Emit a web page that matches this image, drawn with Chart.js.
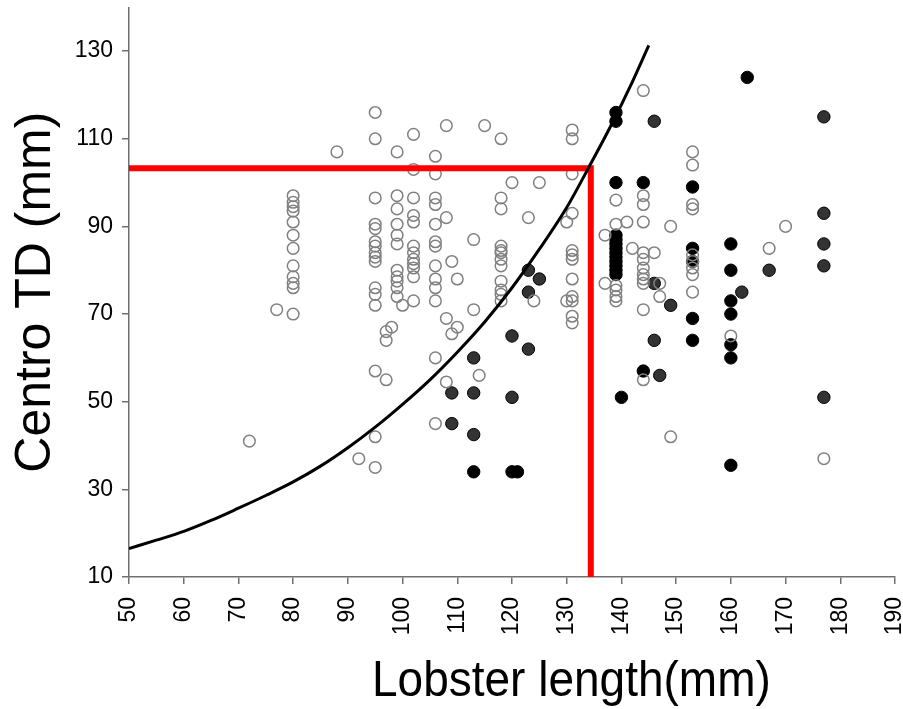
<!DOCTYPE html>
<html><head><meta charset="utf-8">
<script src="https://cdn.jsdelivr.net/npm/chart.js@4.4.0/dist/chart.umd.min.js"></script>
<style>html,body{margin:0;padding:0;background:#fff}#wrap{width:903px;height:709px}</style>
</head><body><div id="wrap"><canvas id="c" width="903" height="709"></canvas></div>
<script>
const xTickValues = [50,60,70,80,90,100,110,120,130,140,150,160,170,180,190];
const yTickValues = [10,30,50,70,90,110,130];
const xTitle = 'Lobster length(mm)';
const yTitle = 'Centro TD (mm)';

// open (grey ring) points [length, TD]
const openPoints = [
  [72,41],[77,71],
  [80,97],[80,95.5],[80,94.5],[80,93.5],[80,91],[80,88],[80,85],[80,81],[80,78.5],[80,77],[80,76],[80,70],
  [88,107],[92,37],
  [95,116],[95,110],[95,96.5],[95,90.5],[95,89.5],[95,86.5],[95,85.5],[95,84],[95,83],[95,82],[95,76],[95,74.5],[95,72],[95,57],[95,42],[95,35],
  [97,66],[97,64],[97,55],[98,67],
  [99,107],[99,97],[99,94],[99,90.5],[99,88],[99,86],[99,80],[99,78.5],[99,77.5],[99,76],[99,74],[100,72],
  [102,111],[102,103],[102,96.5],[102,92.5],[102,91],[102,85.5],[102,84],[102,82.5],[102,81.5],[102,80.5],[102,78.5],[102,73],
  [106,106],[106,102],[106,96.5],[106,95],[106,90.5],[106,86.5],[106,85.5],[106,81],[106,78],[106,76],[106,73],[106,60],[106,45],
  [108,113],[108,92],[108,69],[108,54.5],[109,82],[109,65.5],[110,78],[110,67],
  [113,87],[113,71],[114,56],[115,113],
  [118,110],[118,96.5],[118,94],[118,85.5],[118,84.5],[118,84],[118,82.5],[118,81],[118,77.5],[118,75.5],[118,74.5],[118,73],
  [120,100],[123,92],[124,73],[125,100],[130,91],[130,73],
  [131,112],[131,110],[131,102],[131,93],[131,84.5],[131,83.5],[131,82.5],[131,78],[131,74],[131,73],[131,69.5],[131,68],
  [137,88],[137,77],
  [139,96],[139,90.5],[139,76.5],[139,75.5],[139,74],[139,73],
  [141,91],[142,85],
  [144,121],[144,97],[144,95],[144,91],[144,84],[144,82.5],[144,80.5],[144,79],[144,78],[144,77],[144,71],[144,55],
  [146,84],[147,77],[147,74],[149,90],[149,42],
  [153,107],[153,104],[153,95],[153,94],[153,83.5],[153,82],[153,80.5],[153,79],[153,75],
  [160,65],[167,85],[170,90],[177,37]
];
// dark grey filled points
const darkPoints = [
  [109,52],[109,45],[113,60],[113,52],[113,42.5],[120,65],[120,51],[123,80],[123,75],[123,62],[125,78],
  [146,114],[146,77],[146,64],[147,56],[149,72],[162,75],[167,80],
  [177,115],[177,93],[177,86],[177,81],[177,51]
];
// black filled points
const blackPoints = [
  [113,34],[120,34],[121,34],
  [139,116],[139,114],[139,100],[139,88],[139,87],[139,86],[139,85],[139,84],[139,83],[139,82],[139,81],[139,80],[139,79],
  [140,51],[144,100],[144,57],
  [153,99],[153,85],[153,82],[153,69],[153,64],
  [160,86],[160,80],[160,73],[160,70],[160,63],[160,60],[160,35.5],[163,124]
];
// fitted curve
const curvePoints = [
  [50,16.5],[55,18.4],[60,20.4],[65,22.9],[70,25.7],[75,28.6],[80,31.7],[85,35.3],[90,39.5],[95,44.2],
  [100,49.4],[105,55],[110,61.3],[115,68.2],[120,76],[125,84.8],[130,94.3],[134,103.4],[138,112.8],[142,123],[145,131.3]
];
// red cut-off lines
const cutoffPoints = [[50,103.3],[134.4,103.3],[134.4,10]];

const toXY = a => a.map(p => ({x:p[0], y:p[1]}));
const FONT = '"Liberation Sans", Arial, sans-serif';
const NARROW = '"Liberation Sans Narrow", "Arial Narrow", sans-serif';

const xTitlePlugin = {
  id: 'xTitleDraw',
  afterDraw(chart) {
    const ctx = chart.ctx;
    ctx.save();
    ctx.font = '50px ' + FONT;
    ctx.fillStyle = '#000';
    ctx.textAlign = 'left';
    ctx.textBaseline = 'alphabetic';
    ctx.translate(372, 696);
    ctx.scale(0.92, 1);
    ctx.fillText(xTitle, 0, 0);
    ctx.restore();
  }
};

const noPad = s => { s.paddingTop = 0; s.paddingBottom = 0; s.paddingLeft = 0; s.paddingRight = 0; };

new Chart(document.getElementById('c'), {
  type: 'scatter',
  data: {
    datasets: [
      { data: toXY(curvePoints), showLine: true, pointRadius: 0, borderColor: '#000', borderWidth: 3,
        tension: 0.4, cubicInterpolationMode: 'monotone', order: 0 },
      { data: toXY(cutoffPoints), showLine: true, pointRadius: 0, borderColor: '#ff0000', borderWidth: 6,
        tension: 0, borderJoinStyle: 'miter', borderCapStyle: 'butt', order: 1 },
      { data: toXY(openPoints), pointRadius: 5.8, pointBorderWidth: 1.5, pointBorderColor: '#808080',
        pointBackgroundColor: 'rgba(255,255,255,0)', order: 2 },
      { data: toXY(darkPoints), pointRadius: 6.2, pointBorderWidth: 1, pointBorderColor: '#000',
        pointBackgroundColor: '#333333', order: 3 },
      { data: toXY(blackPoints), pointRadius: 6.2, pointBorderWidth: 1, pointBorderColor: '#000',
        pointBackgroundColor: '#000000', order: 4 }
    ]
  },
  options: {
    responsive: false, animation: false, devicePixelRatio: 1,
    layout: { padding: { top: 5, right: 8, left: 0, bottom: 0 } },
    plugins: { legend: { display: false }, tooltip: { enabled: false } },
    scales: {
      x: {
        type: 'linear', min: 50, max: 190,
        afterBuildTicks: s => { s.ticks = xTickValues.map(v => ({value: v})); },
        afterFit: s => { s.height = 132; noPad(s); },
        ticks: { font: { family: NARROW, size: 23 }, color: '#000', minRotation: 90, maxRotation: 90, autoSkip: false, padding: 13 },
        grid: { drawOnChartArea: false, drawTicks: true, tickLength: 7, color: '#707070', lineWidth: 1.5 },
        border: { color: '#707070', width: 1.5 }
      },
      y: {
        type: 'linear', min: 10, max: 140,
        afterBuildTicks: s => { s.ticks = yTickValues.map(v => ({value: v})); },
        afterFit: s => { s.width = 129; noPad(s); },
        ticks: { font: { family: NARROW, size: 23 }, color: '#000', padding: 9 },
        grid: { drawOnChartArea: false, drawTicks: true, tickLength: 7, color: '#707070', lineWidth: 1.5 },
        border: { color: '#707070', width: 1.5 },
        title: { display: true, text: yTitle, color: '#000', font: { family: FONT, size: 50 }, padding: { top: 6, bottom: 0 } }
      }
    }
  },
  plugins: [xTitlePlugin]
});
</script>
</body></html>
